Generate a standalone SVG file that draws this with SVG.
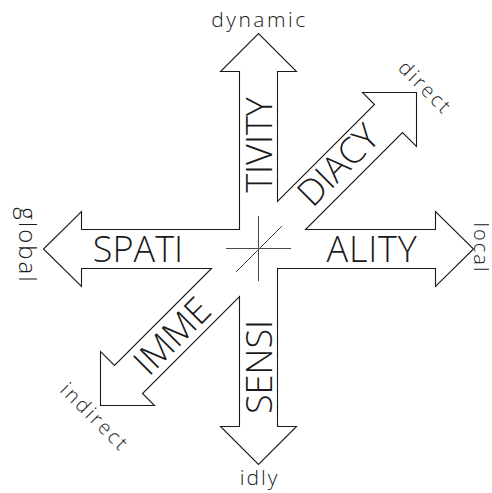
<svg xmlns="http://www.w3.org/2000/svg" width="492" height="493" viewBox="0 0 492 493">
  <style>
    .outline { fill: #ffffff; stroke: #1a1a1a; stroke-width: 1.1; stroke-linejoin: miter; }
    .cross { stroke: #4a4a4a; stroke-width: 1; fill: none; }
    .big { font-family: "Open Sans", "Liberation Sans", sans-serif; font-weight: 300; font-size: 36px; fill: #1a1a1a; text-anchor: middle; }
    .small { font-family: "Open Sans", "Liberation Sans", sans-serif; font-weight: 300; font-size: 20px; letter-spacing: 2.5px; fill: #1a1a1a; text-anchor: middle; }
  </style>
  <rect width="492" height="493" fill="#ffffff"/>

  <!-- six-armed arrow figure drawn as one outline -->
  <g id="connectors">
    <polygon class="outline" points="239.5,229.5 239.5,71.5 220.5,71.5 258.5,33.5 296.5,71.5 277.5,71.5 277.5,201.5 374.5,104.5 362.5,92.5 416.5,92.5 416.5,146.5 402.5,132.5 305.5,229.5 435.5,229.5 435.5,211.5 473.5,249 435.5,286.5 435.5,268.5 277.5,268.5 277.5,426.5 296.5,426.5 258.5,464.5 220.5,426.5 239.5,426.5 239.5,296.5 142.5,393.5 154.5,405.5 100.5,405.5 100.5,351.5 114.5,365.5 211.5,268.5 81.5,268.5 81.5,286.5 43.5,249 81.5,211.5 81.5,229.5"/>
    <!-- centre cross -->
    <line class="cross" x1="258.5" y1="216" x2="258.5" y2="281"/>
    <line class="cross" x1="226" y1="248.5" x2="291" y2="248.5"/>
    <line class="cross" x1="236" y1="272" x2="282" y2="226"/>
  </g>

  <g id="arm-up">
    <text class="big" transform="translate(272,145) rotate(-90)">TIVITY</text>
    <text class="small" x="259.5" y="27" style="font-size:21px">dynamic</text>
  </g>
  <g id="arm-down">
    <text class="big" transform="translate(272,367) rotate(-90)">SENSI</text>
    <text class="small" x="259.5" y="485" style="font-size:21px;letter-spacing:2px">idly</text>
  </g>
  <g id="arm-left">
    <text class="big" x="138" y="262">SPATI</text>
    <text class="small" transform="translate(19,245.5) rotate(90)" style="font-size:24px;letter-spacing:2px">global</text>
  </g>
  <g id="arm-right">
    <text class="big" x="372" y="262" style="letter-spacing:0.8px">ALITY</text>
    <text class="small" transform="translate(474,248) rotate(90)" style="letter-spacing:2px">local</text>
  </g>
  <g id="arm-ne">
    <text class="big" transform="translate(347,174) rotate(-45)">DIACY</text>
    <text class="small" transform="translate(420.5,92.5) rotate(45)">direct</text>
  </g>
  <g id="arm-sw">
    <text class="big" transform="translate(181,345) rotate(-45)">IMME</text>
    <text class="small" transform="translate(90,422) rotate(45)">indirect</text>
  </g>
</svg>
